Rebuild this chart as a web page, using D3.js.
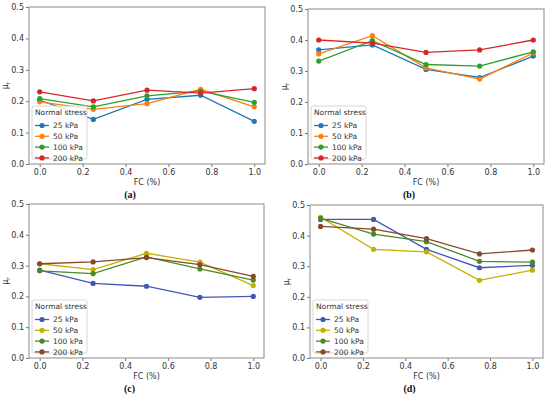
<!DOCTYPE html>
<html><head><meta charset="utf-8">
<script src="https://cdn.jsdelivr.net/npm/d3@7/dist/d3.min.js"></script>
<style>body{margin:0;background:#fff;} svg{display:block;}</style>
</head><body>
<svg id="chart" width="550" height="397"></svg>
<script>
const fcValues = [0.0, 0.25, 0.5, 0.75, 1.0];
const seriesNames = ["25 kPa", "50 kPa", "100 kPa", "200 kPa"];
const xTicks = [0.0, 0.2, 0.4, 0.6, 0.8, 1.0];
const yTicks = [0.0, 0.1, 0.2, 0.3, 0.4, 0.5];
const panelLabels = ["(a)", "(b)", "(c)", "(d)"];

const aValues = [
  [0.203, 0.142, 0.206, 0.219, 0.136],
  [0.198, 0.174, 0.192, 0.238, 0.182],
  [0.208, 0.182, 0.217, 0.232, 0.196],
  [0.230, 0.201, 0.235, 0.226, 0.240]
];
const bValues = [
  [0.368, 0.384, 0.305, 0.279, 0.348],
  [0.355, 0.414, 0.310, 0.274, 0.358],
  [0.332, 0.398, 0.321, 0.316, 0.362],
  [0.400, 0.390, 0.360, 0.368, 0.400]
];
const cValues = [
  [0.285, 0.242, 0.233, 0.197, 0.200],
  [0.306, 0.287, 0.340, 0.311, 0.235],
  [0.283, 0.274, 0.328, 0.289, 0.253],
  [0.306, 0.312, 0.326, 0.303, 0.265]
];
const dValues = [
  [0.453, 0.453, 0.355, 0.295, 0.303],
  [0.460, 0.355, 0.347, 0.254, 0.287],
  [0.456, 0.405, 0.380, 0.316, 0.313],
  [0.430, 0.421, 0.390, 0.340, 0.353]
];

const colorsTab = ["#1f77b4", "#ff7f0e", "#2ca02c", "#d62728"];
const colorsAlt = ["#4456b8", "#c4b000", "#4a8a22", "#87492a"];

const panels = [
  {vals: aValues, colors: colorsTab, l: 29, r: 265, t: 7, b: 164, lab: panelLabels[0]},
  {vals: bValues, colors: colorsTab, l: 308, r: 544, t: 9, b: 164, lab: panelLabels[1]},
  {vals: cValues, colors: colorsAlt, l: 29, r: 264, t: 204, b: 358, lab: panelLabels[2]},
  {vals: dValues, colors: colorsAlt, l: 310, r: 543, t: 205, b: 358, lab: panelLabels[3]}
];

const svg = d3.select("#chart");
const font = "DejaVu Sans, sans-serif";

panels.forEach(p => {
  const x = d3.scaleLinear().domain([-0.05, 1.05]).range([p.l, p.r]);
  const y = d3.scaleLinear().domain([0, 0.5]).range([p.b, p.t]);
  const g = svg.append("g");

  const xa = g.append("g").attr("transform", `translate(0,${p.b})`)
    .call(d3.axisBottom(x).tickValues(xTicks).tickFormat(d3.format(".1f")).tickSize(3).tickPadding(2));
  const ya = g.append("g").attr("transform", `translate(${p.l},0)`)
    .call(d3.axisLeft(y).tickValues(yTicks).tickFormat(d3.format(".1f")).tickSize(3).tickPadding(2));
  [xa, ya].forEach(a => {
    a.select(".domain").remove();
    a.selectAll("line").attr("stroke", "#777");
    a.selectAll("text").attr("font-family", font).attr("font-size", 8).attr("fill", "#333");
  });

  g.append("rect").attr("x", p.l).attr("y", p.t).attr("width", p.r - p.l).attr("height", p.b - p.t)
    .attr("fill", "none").attr("stroke", "#8a8a8a").attr("stroke-width", 1);

  const line = d3.line().x((d, i) => x(fcValues[i])).y(d => y(d));
  p.vals.forEach((vals, si) => {
    g.append("path").datum(vals).attr("d", line).attr("fill", "none")
      .attr("stroke", p.colors[si]).attr("stroke-width", 1.3);
    g.selectAll(null).data(vals).enter().append("circle")
      .attr("cx", (d, i) => x(fcValues[i])).attr("cy", d => y(d)).attr("r", 2.6)
      .attr("fill", p.colors[si]);
  });

  // axis labels
  g.append("text").attr("x", (p.l + p.r) / 2).attr("y", p.b + 21).attr("text-anchor", "middle")
    .attr("font-family", font).attr("font-size", 8).attr("fill", "#333").text("FC (%)");
  const yl = g.append("text").attr("transform", `translate(${p.l - 21},${(p.t + p.b) / 2}) rotate(-90)`)
    .attr("text-anchor", "middle").attr("font-family", font).attr("font-size", 8).attr("fill", "#333");
  yl.append("tspan").text("μ");
  yl.append("tspan").attr("font-size", 6).attr("dy", 2).text("r");

  g.append("text").attr("x", (p.l + p.r) / 2 - 17).attr("y", p.b + 34).attr("text-anchor", "middle")
    .attr("font-family", "Liberation Serif, Times New Roman, serif").attr("font-weight", "bold")
    .attr("font-size", 10).attr("fill", "#111").text(p.lab);

  // legend
  const lx = p.l + 3, lw = 55, lh = 53, ly = p.b - 5 - lh;
  const lg = g.append("g");
  lg.append("rect").attr("x", lx).attr("y", ly).attr("width", lw).attr("height", lh).attr("rx", 2)
    .attr("fill", "rgba(255,255,255,0.85)").attr("stroke", "#ccc").attr("stroke-width", 0.8);
  lg.append("text").attr("x", lx + 3).attr("y", ly + 9).attr("font-family", font).attr("font-size", 7.5)
    .attr("fill", "#333").text("Normal stress");
  seriesNames.forEach((nm, si) => {
    const yy = ly + 19.5 + si * 10.8;
    lg.append("line").attr("x1", lx + 3).attr("x2", lx + 17).attr("y1", yy).attr("y2", yy)
      .attr("stroke", p.colors[si]).attr("stroke-width", 1.3);
    lg.append("circle").attr("cx", lx + 10).attr("cy", yy).attr("r", 2.6).attr("fill", p.colors[si]);
    lg.append("text").attr("x", lx + 21).attr("y", yy + 2.8).attr("font-family", font).attr("font-size", 7.5)
      .attr("fill", "#333").text(nm);
  });
});
</script>
</body></html>
